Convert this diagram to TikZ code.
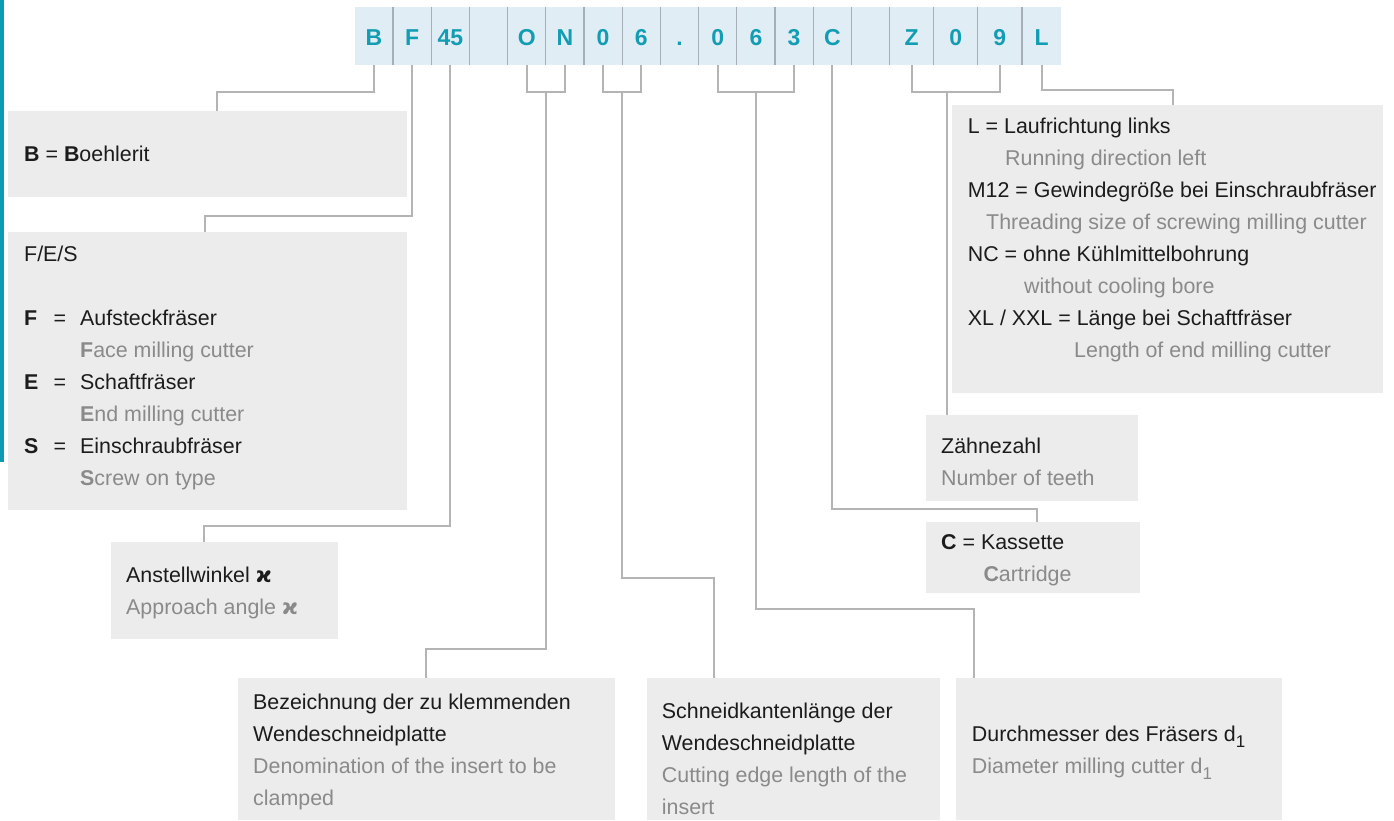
\documentclass[tikz,border=0pt]{standalone}
\usepackage{fontspec}
\setmainfont{Liberation Sans}
\newfontfamily\kapfont{DejaVu Sans}
\usetikzlibrary{positioning,fit,calc}

\definecolor{bluecell}{HTML}{E1EDF5}
\definecolor{tealtext}{HTML}{139DB3}
\definecolor{tealbar}{HTML}{0A9AB1}
\definecolor{divgray}{HTML}{A6AFB7}
\definecolor{boxgray}{HTML}{ECECEC}
\definecolor{linkgray}{HTML}{B4B4B4}
\definecolor{engray}{HTML}{8A8A8A}
\definecolor{detext}{HTML}{1C1C1C}

\newcommand{\kap}{{\kapfont\bfseries ϰ}}
\newcommand{\dsub}[1]{\raisebox{-6pt}{\fontsize{17}{17}\selectfont #1}}
\newcommand{\keyrow}[2]{\makebox[29.3pt][l]{\bfseries #1}\makebox[26.7pt][l]{=}#2}
\newcommand{\enrow}[2]{{\color{engray}\hspace*{56pt}\textbf{#1}#2}}

\begin{document}
\begin{tikzpicture}[x=1pt,y=-1pt]
  \tikzset{CellStyle/.style = {minimum width=37.8pt, minimum height=58pt,
                               inner sep=0pt, fill=bluecell, text=tealtext,
                               font=\fontsize{23}{23}\selectfont\bfseries,
                               text height=19.4pt, text depth=0pt},
           WideCell/.style  = {CellStyle, minimum width=43.7pt},
           DivStyle/.style  = {divgray, line width=1.2pt},
           BoxStyle/.style  = {fill=boxgray, inner sep=0pt},
           TextStyle/.style = {anchor=base west, inner sep=0pt, align=left,
                               text=detext, font=\fontsize{21.4}{32}\selectfont},
           LinkStyle/.style = {linkgray, line width=2pt}}

\useasboundingbox (0,0) rectangle (1394,820);
\fill[tealbar] (0,0) rectangle (4,462);

% code line

\node[CellStyle] (cB) at (373.9,36) {B};
\node[CellStyle, right=0pt of cB]     (cF)     {F};
\node[CellStyle, right=0pt of cF]     (c45)    {45};
\node[CellStyle, right=0pt of c45]    (cGapA)  {};
\node[CellStyle, right=0pt of cGapA]  (cO)     {O};
\node[CellStyle, right=0pt of cO]     (cN)     {N};
\node[CellStyle, right=0pt of cN]     (cNullA) {0};
\node[CellStyle, right=0pt of cNullA] (cSixA)  {6};
\node[CellStyle, right=0pt of cSixA]  (cDot)   {.};
\node[CellStyle, right=0pt of cDot]   (cNullB) {0};
\node[CellStyle, right=0pt of cNullB] (cSixB)  {6};
\node[CellStyle, right=0pt of cSixB]  (cThree) {3};
\node[CellStyle, right=0pt of cThree] (cC)     {C};
\node[CellStyle, right=0pt of cC]     (cGapB)  {};
\node[WideCell,  right=0pt of cGapB]  (cZ)     {Z};
\node[WideCell,  right=0pt of cZ]     (cNullC) {0};
\node[WideCell,  right=0pt of cNullC] (cNine)  {9};
\node[CellStyle, minimum width=39.3pt, right=0pt of cNine] (cL) {L};

\draw[DivStyle] (cB.north east)     -- (cB.south east);
\draw[DivStyle] (cF.north east)     -- (cF.south east);
\draw[DivStyle] (c45.north east)    -- (c45.south east);
\draw[DivStyle] (cGapA.north east)  -- (cGapA.south east);
\draw[DivStyle] (cO.north east)     -- (cO.south east);
\draw[DivStyle] (cN.north east)     -- (cN.south east);
\draw[DivStyle] (cNullA.north east) -- (cNullA.south east);
\draw[DivStyle] (cSixA.north east)  -- (cSixA.south east);
\draw[DivStyle] (cDot.north east)   -- (cDot.south east);
\draw[DivStyle] (cNullB.north east) -- (cNullB.south east);
\draw[DivStyle] (cSixB.north east)  -- (cSixB.south east);
\draw[DivStyle] (cThree.north east) -- (cThree.south east);
\draw[DivStyle] (cC.north east)     -- (cC.south east);
\draw[DivStyle] (cGapB.north east)  -- (cGapB.south east);
\draw[DivStyle] (cZ.north east)     -- (cZ.south east);
\draw[DivStyle] (cNullC.north east) -- (cNullC.south east);
\draw[DivStyle] (cNine.north east)  -- (cNine.south east);

% boxes left

\node[BoxStyle, fit={(8.3,111) (406.7,196.7)}]   (bxB) {};
\node[BoxStyle, fit={(8.3,232.3) (406.7,509.7)}] (bxF) {};
\node[BoxStyle, fit={(110.7,542) (338,638.7)}]   (bxA) {};

% boxes bottom

\node[BoxStyle, fit={(237.8,678.3) (614.7,820)}] (bxD)  {};
\node[BoxStyle, fit={(646.7,678.3) (940,820)}]   (bxS)  {};
\node[BoxStyle, fit={(956,678.3) (1281.8,820)}]  (bxDm) {};

% boxes right

\node[BoxStyle, fit={(951.7,105) (1383.3,392.7)}] (bxL) {};
\node[BoxStyle, fit={(926,415) (1137.7,500.7)}]   (bxN) {};
\node[BoxStyle, fit={(926,522.3) (1139.8,593.3)}] (bxC) {};

% texts (placed at the baseline of their last line)

\node[TextStyle] (tB) at (24,161) {\textbf{B} = \textbf{B}oehlerit};
\node[TextStyle] (tF) at (24,485) {F/E/S\\[32pt]
  \keyrow{F}{Aufsteckfräser}\\
  \enrow{F}{ace milling cutter}\\
  \keyrow{E}{Schaftfräser}\\
  \enrow{E}{nd milling cutter}\\
  \keyrow{S}{Einschraubfräser}\\
  \enrow{S}{crew on type}};
\node[TextStyle] (tA) at (126,614) {Anstellwinkel \kap\\
  {\color{engray}Approach angle \kap}};
\node[TextStyle] (tD) at (253,805) {Bezeichnung der zu klemmenden\\
  Wendeschneidplatte\\
  {\color{engray}Denomination of the insert to be}\\
  {\color{engray}clamped}};
\node[TextStyle] (tS) at (661.7,814) {Schneidkantenlänge der\\
  Wendeschneidplatte\\
  {\color{engray}Cutting edge length of the}\\
  {\color{engray}insert}};
\node[TextStyle] (tDm) at (971.7,773.3) {Durchmesser des Fräsers d\dsub{1}\\
  {\color{engray}Diameter milling cutter d\dsub{1}}};
\node[TextStyle] (tL) at (967.7,357.7) {L = Laufrichtung links\\
  {\color{engray}\hspace*{37.3pt}Running direction left}\\
  M12 = Gewindegröße bei Einschraubfräser\\
  {\color{engray}\hspace*{18.3pt}Threading size of screwing milling cutter}\\
  NC = ohne Kühlmittelbohrung\\
  {\color{engray}\hspace*{56.3pt}without cooling bore}\\
  XL / XXL = Länge bei Schaftfräser\\
  {\color{engray}\hspace*{106.3pt}Length of end milling cutter}};
\node[TextStyle] (tN) at (941,485) {Zähnezahl\\
  {\color{engray}Number of teeth}};
\node[TextStyle] (tC) at (941,581.7) {\textbf{C} = Kassette\\
  {\color{engray}\hspace*{42.3pt}\textbf{C}artridge}};

% connectors single

\draw[LinkStyle] (cB.south)  -- ++(0,27)    -| ([xshift=9.5pt]bxB.north);
\draw[LinkStyle] (cF.south)  -- ++(0,151)   -| ([xshift=-2.8pt]bxF.north);
\draw[LinkStyle] (c45.south) -- ++(0,460.7) -| ([xshift=-19.9pt]bxA.north);
\draw[LinkStyle] (cC.south)  -- ++(0,444)   -| ([xshift=3.8pt]bxC.north);
\draw[LinkStyle] (cL.south)  -- ++(0,24.3)  -| ([xshift=5pt]bxL.north);

% connectors bracket

\draw[LinkStyle] (cO.south) -- ++(0,26.7) -| (cN.south);
\coordinate (mON) at ($(cO.south)!0.5!(cN.south)+(0,26.7)$);
\draw[LinkStyle] (mON) -- ++(0,556.6) -| (bxD.north);

\draw[LinkStyle] (cNullA.south) -- ++(0,26.7) -| (cSixA.south);
\coordinate (mNS) at ($(cNullA.south)!0.5!(cSixA.south)+(0,26.7)$);
\draw[LinkStyle] (mNS) -- ++(0,485.6) -| ([xshift=-79.5pt]bxS.north);

\draw[LinkStyle] (cNullB.south) -- ++(0,26.7) -| (cThree.south);
\coordinate (mNST) at ($(cNullB.south)!0.5!(cThree.south)+(0,26.7)$);
\draw[LinkStyle] (mNST) -- ++(0,516.6) -| ([xshift=-145.2pt]bxDm.north);

\draw[LinkStyle] (cZ.south) -- ++(0,26.7) -| (cNine.south);
\coordinate (mZN) at ($(cZ.south)!0.4!(cNine.south)+(0,26.7)$);
\draw[LinkStyle] (mZN) -- (mZN |- bxN.north);

\end{tikzpicture}
\end{document}
